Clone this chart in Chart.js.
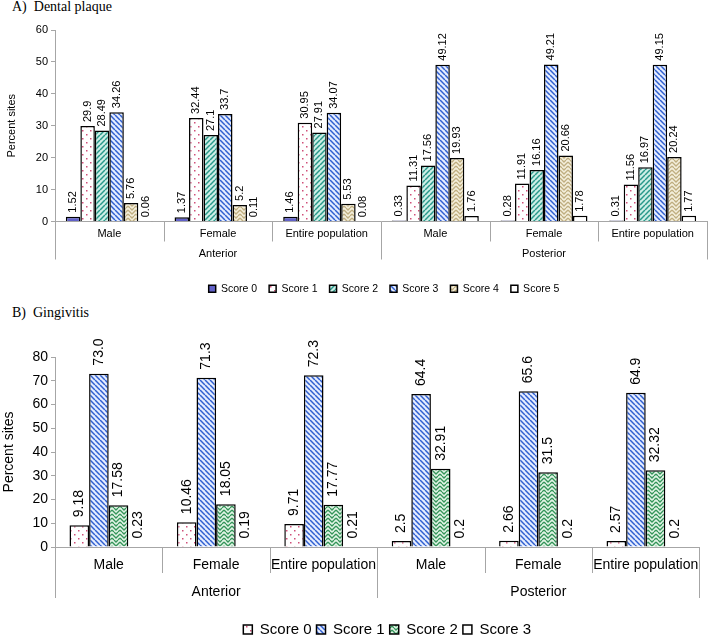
<!DOCTYPE html>
<html lang="en">
<head>
<meta charset="UTF-8">
<title>Dental plaque and gingivitis scores</title>
<script src="https://cdn.jsdelivr.net/npm/chart.js"></script>
<style>
    body { margin: 0; background: #fff; }
    .panel { position: absolute; left: 0; width: 709px; }
    .heading { position: absolute; left: 12px; font-family: "Liberation Serif", "Times New Roman", serif; font-size: 14px; color: #000; }
</style>
</head>
<body>
<div class="heading" style="top: -1px;">A)&nbsp; Dental plaque</div>
<div class="panel" style="top: 0; height: 300px;"><canvas id="plaque"></canvas></div>
<div class="heading" style="top: 305px;">B)&nbsp; Gingivitis</div>
<div class="panel" style="top: 300px; height: 339px;"><canvas id="gingivitis"></canvas></div>
<script>
const categories = ['Male', 'Female', 'Entire population', 'Male', 'Female', 'Entire population'];
const groups = ['Anterior', 'Posterior'];

// A) dental plaque, percent sites per score
const plaqueScore0 = [1.52, 1.37, 1.46, 0.33, 0.28, 0.31];
const plaqueScore1 = [29.9, 32.44, 30.95, 11.31, 11.91, 11.56];
const plaqueScore2 = [28.49, 27.1, 27.91, 17.56, 16.16, 16.97];
const plaqueScore3 = [34.26, 33.7, 34.07, 49.12, 49.21, 49.15];
const plaqueScore4 = [5.76, 5.2, 5.53, 19.93, 20.66, 20.24];
const plaqueScore5 = [0.06, 0.11, 0.08, 1.76, 1.78, 1.77];

// B) gingivitis, percent sites per score
const gingScore0 = [9.18, 10.46, 9.71, 2.5, 2.66, 2.57];
const gingScore1 = [73.0, 71.3, 72.3, 64.4, 65.6, 64.9];
const gingScore2 = [17.58, 18.05, 17.77, 32.91, 31.5, 32.32];
const gingScore3 = [0.23, 0.19, 0.21, 0.2, 0.2, 0.2];

const SANS = '"Liberation Sans", Arial, sans-serif';

// fill patterns
const makeTile = (size, bg, draw) => {
    const c = document.createElement('canvas');
    c.width = size; c.height = size;
    const g = c.getContext('2d');
    g.fillStyle = bg;
    g.fillRect(0, 0, size, size);
    draw(g, size);
    return g.createPattern(c, 'repeat');
};
const dots = (color) => makeTile(8, '#ffffff', (g) => {
    g.fillStyle = color;
    g.fillRect(2, 2, 1.5, 1.5);
    g.fillRect(6, 6, 1.5, 1.5);
});
const stripes = (bg, color, dir) => makeTile(5, bg, (g, s) => {
    g.strokeStyle = color;
    g.lineWidth = 1.5;
    for (let k = -s; k <= s; k += s) {
        g.beginPath();
        if (dir === 'back') { g.moveTo(k, 0); g.lineTo(k + s, s); }
        else { g.moveTo(k, s); g.lineTo(k + s, 0); }
        g.stroke();
    }
});
const zigzag = (bg, color) => makeTile(8, bg, (g) => {
    g.strokeStyle = color;
    g.lineWidth = 1.3;
    g.beginPath();
    g.moveTo(0, 2); g.lineTo(4, 6); g.lineTo(8, 2);
    g.moveTo(0, 6); g.lineTo(2, 8);
    g.moveTo(6, 8); g.lineTo(8, 6);
    g.moveTo(2, 0); g.lineTo(4, 2); g.lineTo(6, 0);
    g.stroke();
});

const bar = (label, data, fill, extra) => Object.assign({
    label: label,
    data: data,
    backgroundColor: fill,
    borderColor: '#000',
    borderWidth: 1.5
}, extra || {});

// rotated value labels above each bar
const barValues = {
    id: 'barValues',
    afterDatasetsDraw(chart, args, opts) {
        const ctx = chart.ctx;
        ctx.save();
        ctx.font = opts.size + 'px ' + SANS;
        ctx.fillStyle = '#000';
        ctx.textAlign = 'left';
        ctx.textBaseline = 'middle';
        chart.data.datasets.forEach((ds, i) => {
            chart.getDatasetMeta(i).data.forEach((el, j) => {
                const v = ds.data[j];
                const txt = ds.digits ? v.toFixed(ds.digits) : String(v);
                ctx.save();
                ctx.translate(el.x, el.y - opts.gap);
                ctx.rotate(-Math.PI / 2);
                ctx.fillText(txt, 0, 0);
                ctx.restore();
            });
        });
        ctx.restore();
    }
};

// separators between categories and the Anterior / Posterior row
const groupAxis = {
    id: 'groupAxis',
    afterLayout(chart, args, opts) {
        const lg = chart.legend;
        if (lg) {
            lg.left = chart.chartArea.left + opts.legendShift;
            lg.right = chart.chartArea.right + opts.legendShift;
        }
    },
    afterDraw(chart, args, opts) {
        const x = chart.scales.x;
        const area = chart.chartArea;
        const ctx = chart.ctx;
        const n = chart.data.labels.length;
        const per = n / groups.length;
        const half = (x.getPixelForValue(1) - x.getPixelForValue(0)) / 2;
        ctx.save();
        ctx.strokeStyle = '#a6a6a6';
        ctx.lineWidth = 1;
        for (let i = 0; i <= n; i++) {
            const px = i < n ? x.getPixelForValue(i) - half : x.getPixelForValue(n - 1) + half;
            const len = i % per === 0 ? opts.longTick : opts.shortTick;
            ctx.beginPath();
            ctx.moveTo(Math.round(px) + 0.5, area.bottom);
            ctx.lineTo(Math.round(px) + 0.5, area.bottom + len);
            ctx.stroke();
        }
        ctx.fillStyle = '#000';
        ctx.font = opts.size + 'px ' + SANS;
        ctx.textAlign = 'center';
        ctx.textBaseline = 'middle';
        groups.forEach((g, k) => {
            const a = x.getPixelForValue(k * per);
            const b = x.getPixelForValue((k + 1) * per - 1);
            ctx.fillText(g, (a + b) / 2, area.bottom + opts.labelOffset);
        });
        ctx.restore();
    }
};

const makeOptions = (cfg) => ({
    responsive: true,
    maintainAspectRatio: false,
    animation: false,
    layout: { padding: { top: cfg.top, right: cfg.right, left: 0, bottom: cfg.bottom } },
    scales: {
        x: {
            grid: { display: false, drawTicks: false },
            border: { display: true, color: '#a6a6a6' },
            ticks: { color: '#000', font: { family: SANS, size: cfg.font }, padding: cfg.tickPad, autoSkip: false, maxRotation: 0 },
            afterFit: (s) => { s.height = cfg.xHeight; }
        },
        y: {
            min: 0,
            max: cfg.max,
            ticks: { stepSize: 10, color: '#000', font: { family: SANS, size: cfg.font }, padding: 3 },
            grid: { drawOnChartArea: false, tickLength: 4, color: '#a6a6a6' },
            border: { display: true, color: '#a6a6a6' },
            title: { display: true, text: 'Percent sites', color: '#000', font: { family: SANS, size: cfg.font }, padding: { top: cfg.titlePad, bottom: 4 } },
            afterFit: (s) => { s.width = 55; }
        }
    },
    plugins: {
        legend: {
            position: 'bottom',
            labels: { boxWidth: cfg.box, boxHeight: cfg.box, color: '#000', padding: cfg.legendPad, font: { family: SANS, size: cfg.legendFont } }
        },
        tooltip: { enabled: false },
        barValues: { size: cfg.font, gap: cfg.gap },
        groupAxis: { shortTick: cfg.shortTick, longTick: cfg.longTick, labelOffset: cfg.groupOffset, size: cfg.font, legendShift: cfg.legendShift }
    }
});

new Chart(document.getElementById('plaque'), {
    type: 'bar',
    data: {
        labels: categories,
        datasets: [
            bar('Score 0', plaqueScore0, '#6262c8'),
            bar('Score 1', plaqueScore1, dots('#d0507a')),
            bar('Score 2', plaqueScore2, stripes('#cdeee6', '#28988a', 'fwd')),
            bar('Score 3', plaqueScore3, stripes('#e4ecff', '#2f5fd0', 'back')),
            bar('Score 4', plaqueScore4, zigzag('#f4efdc', '#bfae80')),
            bar('Score 5', plaqueScore5, '#ffffff')
        ].map(d => Object.assign(d, { categoryPercentage: 0.8, barPercentage: 1 }))
    },
    options: makeOptions({
        top: 30, right: 2, bottom: -4, max: 60, font: 11, tickPad: 6, xHeight: 50, titlePad: 5,
        box: 7, legendPad: 12, legendFont: 10.5, gap: 4, legendShift: 3,
        shortTick: 20, longTick: 38, groupOffset: 32
    }),
    plugins: [barValues, groupAxis]
});

new Chart(document.getElementById('gingivitis'), {
    type: 'bar',
    data: {
        labels: categories,
        datasets: [
            bar('Score 0', gingScore0, dots('#d0507a')),
            bar('Score 1', gingScore1, stripes('#e4ecff', '#2f5fd0', 'back'), { digits: 1 }),
            bar('Score 2', gingScore2, zigzag('#e2f4e6', '#35955a')),
            bar('Score 3', gingScore3, '#ffffff')
        ].map(d => Object.assign(d, { categoryPercentage: 0.73, barPercentage: 1 }))
    },
    options: makeOptions({
        top: 57, right: 9, bottom: -8, max: 80, font: 14, tickPad: 10, xHeight: 70, titlePad: 1,
        box: 9, legendPad: 5, legendFont: 15, gap: 8, legendShift: 10,
        shortTick: 26, longTick: 51, groupOffset: 45
    }),
    plugins: [barValues, groupAxis]
});
</script>
</body>
</html>
